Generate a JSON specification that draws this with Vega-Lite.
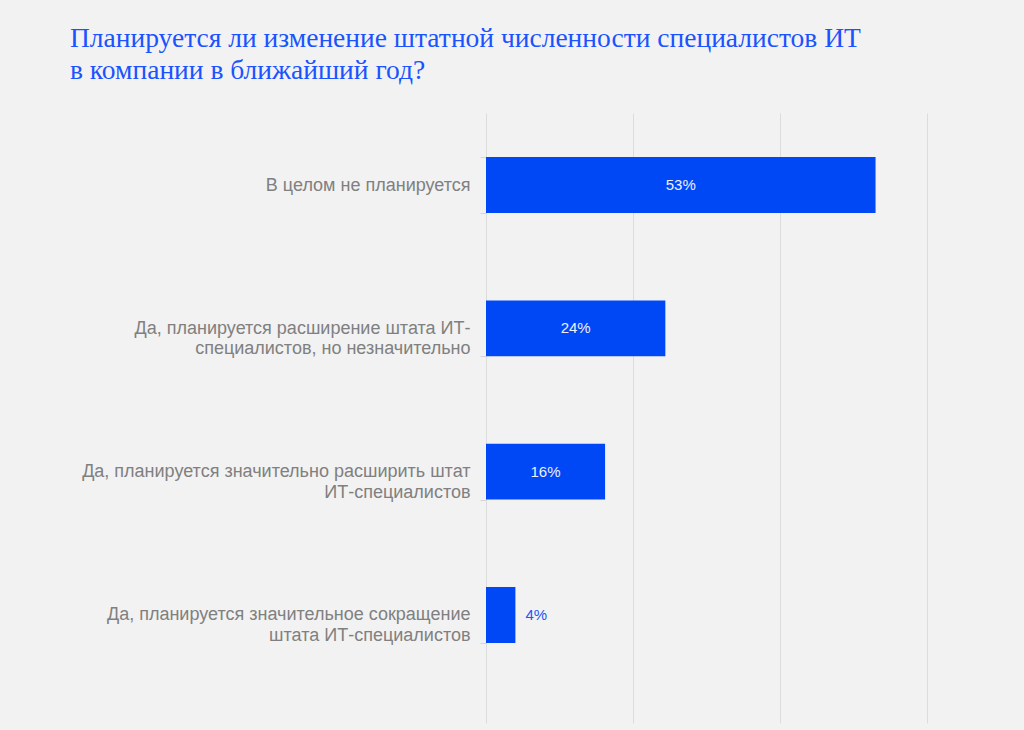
{
  "$schema": "https://vega.github.io/schema/vega-lite/v6.json",
  "autosize": {"type": "none"},
  "width": 441,
  "height": 610,
  "padding": {"left": 486, "top": 113, "right": 97, "bottom": 7},
  "background": "#f2f2f2",
  "title": {
    "text": ["Планируется ли изменение штатной численности специалистов ИТ", "в компании в ближайший год?"],
    "anchor": "start",
    "frame": "group",
    "dx": -416,
    "offset": 20,
    "font": "Liberation Serif",
    "fontSize": 27.5,
    "fontWeight": "normal",
    "lineHeight": 32,
    "color": "#1a53ff"
  },
  "data": {
    "values": [
      {"answer": "В целом не планируется", "value": 0.53},
      {"answer": "Да, планируется расширение штата ИТ-\nспециалистов, но незначительно", "value": 0.244},
      {"answer": "Да, планируется значительно расширить штат\nИТ-специалистов", "value": 0.162},
      {"answer": "Да, планируется значительное сокращение\nштата ИТ-специалистов", "value": 0.04}
    ]
  },
  "config": {
    "view": {"stroke": null},
    "font": "Liberation Sans"
  },
  "encoding": {
    "y": {
      "field": "answer",
      "type": "nominal",
      "sort": null,
      "scale": {"paddingInner": 0.61, "paddingOuter": 0.433, "align": 0.355},
      "axis": {
        "title": null,
        "domain": false,
        "grid": false,
        "tickBand": "extent",
        "tickSize": 6,
        "tickColor": "#d6d6d6",
        "labelPadding": 10,
        "labelFont": "Liberation Sans",
        "labelFontSize": 18,
        "labelColor": "#808080",
        "labelLineHeight": 20.5,
        "labelLimit": 500,
        "labelExpr": "split(datum.label, '\\n')"
      }
    }
  },
  "layer": [
    {
      "mark": {"type": "bar", "color": "#0048f6"},
      "encoding": {
        "x": {
          "field": "value",
          "type": "quantitative",
          "scale": {"domain": [0, 0.6], "nice": false},
          "axis": {
            "title": null,
            "labels": false,
            "ticks": false,
            "domain": false,
            "grid": true,
            "gridColor": "#dcdcdc",
            "values": [0, 0.2, 0.4, 0.6]
          }
        }
      }
    },
    {
      "transform": [
        {"filter": "datum.value >= 0.1"},
        {"calculate": "datum.value / 2", "as": "mid"}
      ],
      "mark": {"type": "text", "align": "center", "baseline": "middle", "fontSize": 15, "color": "#eef1fb", "font": "Liberation Sans"},
      "encoding": {
        "x": {"field": "mid", "type": "quantitative"},
        "text": {"field": "value", "type": "quantitative", "format": ".0%"}
      }
    },
    {
      "transform": [{"filter": "datum.value < 0.1"}],
      "mark": {"type": "text", "align": "left", "baseline": "middle", "dx": 10, "fontSize": 15, "color": "#2455f5", "font": "Liberation Sans"},
      "encoding": {
        "x": {"field": "value", "type": "quantitative"},
        "text": {"field": "value", "type": "quantitative", "format": ".0%"}
      }
    }
  ]
}
